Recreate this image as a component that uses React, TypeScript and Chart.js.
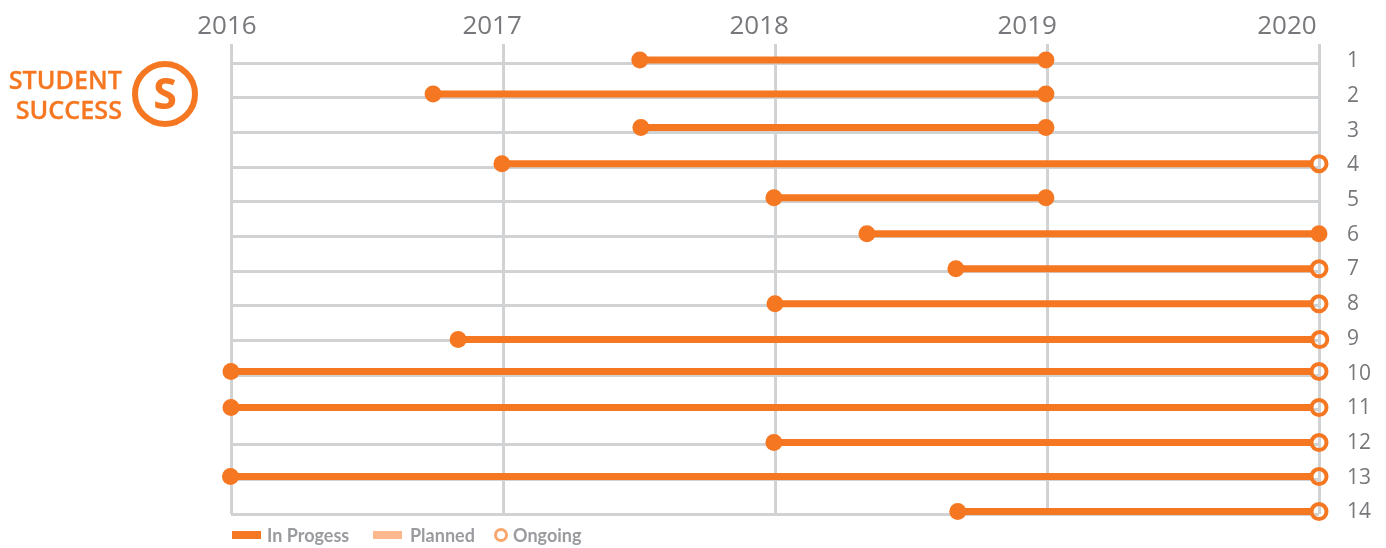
import React, { useEffect, useRef } from "react";
import { Chart, registerables } from "chart.js";

Chart.register(...registerables);

const rows = [1, 2, 3, 4, 5, 6, 7, 8, 9, 10, 11, 12, 13, 14];
const markRows = [0.91, 1.89, 2.86, 3.9, 4.88, 5.92, 6.93, 7.94, 8.97, 9.89, 10.93, 11.94, 12.92, 13.93];
const starts = [2017.503, 2016.743, 2017.507, 2016.996, 2017.996, 2018.338, 2018.665, 2018.0, 2016.835, 2016.0, 2016.0, 2017.996, 2015.998, 2018.672];
const ends = [2018.996, 2018.996, 2018.996, 2020, 2018.996, 2020, 2020, 2020, 2020.003, 2020, 2020, 2020, 2020, 2020];
const ongoing = [false, false, false, true, false, false, true, true, true, true, true, true, true, true];
const years = [2016, 2017, 2018, 2019, 2020];
const yearLabelAt = [2015.985, 2016.96, 2017.942, 2018.927, 2019.882];
const ringGap = 0.024;

const ORANGE = "#f67721";
const GRID = "#d1d2d4";
const TEXT = "#77787b";

export default function App() {
  const ref = useRef<HTMLCanvasElement>(null);
  useEffect(() => {
    document.body.style.margin = "0";
    const datasets: any[] = rows.map((r, i) => ({
      label: "Row " + r,
      data: ongoing[i]
        ? [
            { x: starts[i], y: markRows[i] },
            { x: ends[i] - ringGap, y: markRows[i] },
            { x: ends[i], y: markRows[i] },
          ]
        : [
            { x: starts[i], y: markRows[i] },
            { x: ends[i], y: markRows[i] },
          ],
      xAxisID: "x",
      yAxisID: "y",
      borderColor: ORANGE,
      borderWidth: 7,
      borderCapStyle: "butt",
      segment: {
        borderColor: (c: any) => (c.p1DataIndex === 2 ? "transparent" : undefined),
      },
      pointRadius: ongoing[i] ? [8.5, 0, 7.5] : [8.5, 8.5],
      pointBorderWidth: ongoing[i] ? [0, 0, 4] : [0, 0],
      pointBorderColor: ORANGE,
      pointBackgroundColor: ongoing[i] ? [ORANGE, "transparent", "transparent"] : [ORANGE, ORANGE],
      clip: false,
    }));
    const chart = new Chart(ref.current!, {
      type: "line",
      data: { datasets },
      options: {
        animation: false,
        responsive: false,
        layout: { padding: { left: 231, right: 0, top: 0, bottom: 34 } },
        plugins: { legend: { display: false }, tooltip: { enabled: false } },
        scales: {
          x: {
            type: "linear",
            position: "bottom",
            min: 2016,
            max: 2020,
            afterBuildTicks: (a: any) => {
              a.ticks = years.map((v) => ({ value: v }));
            },
            afterFit: (a: any) => {
              a.height = 0;
            },
            ticks: { display: false },
            grid: { color: GRID, lineWidth: 3, drawTicks: false },
            border: { display: false },
          },
          xTop: {
            type: "linear",
            position: "top",
            min: 2016,
            max: 2020,
            afterBuildTicks: (a: any) => {
              a.ticks = yearLabelAt.map((v) => ({ value: v }));
            },
            afterFit: (a: any) => {
              a.height = 44;
            },
            ticks: {
              autoSkip: false,
              maxRotation: 0,
              padding: 2,
              color: TEXT,
              font: { family: "Open Sans", size: 26 },
              callback: (_v: any, i: number) => String(years[i]),
            },
            grid: { display: false, drawTicks: false },
            border: { display: false },
          },
          y: {
            type: "linear",
            position: "right",
            reverse: true,
            min: 0.45,
            max: 14,
            afterBuildTicks: (a: any) => {
              a.ticks = rows.map((v) => ({ value: v }));
            },
            afterFit: (a: any) => {
              a.width = 0;
            },
            ticks: { display: false },
            grid: { color: GRID, lineWidth: 3, drawTicks: false },
            border: { display: false },
          },
          yRight: {
            type: "linear",
            position: "right",
            reverse: true,
            min: 0.5,
            max: 14.05,
            afterBuildTicks: (a: any) => {
              a.ticks = rows.map((v) => ({ value: v }));
            },
            afterFit: (a: any) => {
              a.width = 67;
            },
            ticks: {
              autoSkip: false,
              padding: 0,
              color: TEXT,
              font: { family: "Open Sans", size: 21 },
              callback: (v: any) => String(v),
            },
            grid: { display: true, drawOnChartArea: false, drawTicks: true, tickLength: 28, tickColor: "transparent" },
            border: { display: false },
          },
        },
      },
    });
    return () => chart.destroy();
  }, []);

  const abs = (o: React.CSSProperties): React.CSSProperties => ({ position: "absolute", whiteSpace: "nowrap", ...o });
  const legendText: React.CSSProperties = { color: "#9a9b9f", fontFamily: "Lato", fontWeight: 700, fontSize: 18, lineHeight: "20px", top: 525 };

  return (
    <div style={{ position: "relative", width: 1386, height: 548, overflow: "hidden", background: "#fff" }}>
      <canvas ref={ref} width={1386} height={548} style={{ position: "absolute", left: 0, top: 0 }} />
      <div style={abs({ right: 1386 - 122, top: 63.5, color: ORANGE, fontFamily: "Open Sans", fontWeight: 600, fontSize: 25.2, lineHeight: "30px", textAlign: "right", WebkitTextStroke: "0.3px " + ORANGE })}>
        STUDENT
        <br />
        SUCCESS
      </div>
      <div style={abs({ left: 132, top: 61, width: 66, height: 66, boxSizing: "border-box", border: "6px solid " + ORANGE, borderRadius: "50%", color: ORANGE, fontFamily: "Open Sans", fontWeight: 700, fontSize: 43, lineHeight: "52px", textAlign: "center" })}>S</div>
      <div style={abs({ left: 232, top: 531, width: 29, height: 8, background: ORANGE })} />
      <div style={abs({ left: 267, ...legendText })}>In Progess</div>
      <div style={abs({ left: 373, top: 531, width: 29, height: 8, background: "#fdb98d" })} />
      <div style={abs({ left: 410, ...legendText })}>Planned</div>
      <div style={abs({ left: 494, top: 528, width: 14, height: 14, boxSizing: "border-box", border: "3px solid #f9a66c", borderRadius: "50%" })} />
      <div style={abs({ left: 513, ...legendText })}>Ongoing</div>
    </div>
  );
}
